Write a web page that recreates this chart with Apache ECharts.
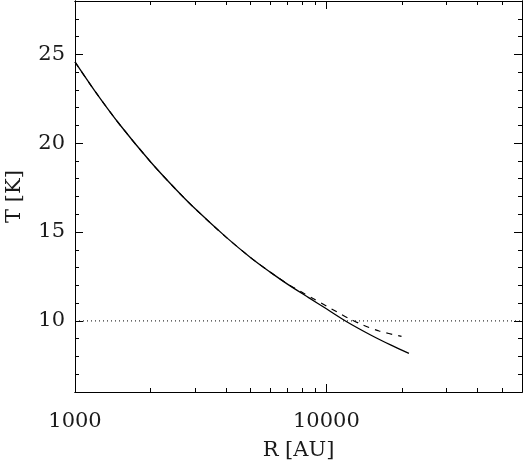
<!DOCTYPE html>
<html>
<head>
<meta charset="utf-8">
<script src="https://cdn.jsdelivr.net/npm/echarts@6/dist/echarts.min.js"></script>
<style>html,body{margin:0;padding:0;background:#fff}#c{width:525px;height:460px}</style>
</head>
<body>
<div id="c"></div>
<script>
// ---- data ----
const solidR = [1000, 1200, 1500, 2000, 2500, 3000, 4000, 5000, 6000, 7000, 8500, 10000, 12000, 15000, 18000, 21300];
const solidT = [24.57, 22.93, 21.08, 18.94, 17.45, 16.32, 14.70, 13.56, 12.73, 12.07, 11.31, 10.68, 9.97, 9.21, 8.65, 8.17];
const dashR = [1000, 1200, 1500, 2000, 2500, 3000, 4000, 5000, 6000, 7000, 8000, 9000, 10000, 11000, 12330, 13930, 16220, 19900];
const dashT = [24.57, 22.93, 21.08, 18.94, 17.45, 16.32, 14.70, 13.56, 12.73, 12.08, 11.61, 11.20, 10.84, 10.51, 10.13, 9.78, 9.43, 9.13];
const refR = [1000, 60000];
const refT = [10, 10];
const xMajor = [1000, 10000];
const xMinor = [2000, 3000, 4000, 5000, 6000, 7000, 8000, 9000, 20000, 30000, 40000, 50000];
const yMajor = [10, 15, 20, 25];
const yMinor = [7, 8, 9, 11, 12, 13, 14, 16, 17, 18, 19, 21, 22, 23, 24, 26, 27];
const xMin = 1000, xMax = 60000, yMin = 6, yMax = 28;

const FONT = 'DejaVu Serif';
const ink = '#000';
const txt = '#1a1a1a';
const zip = (a, b) => a.map((v, i) => [v, b[i]]);

function xAx(pos, ticks, len, labels, extra) {
  return Object.assign({
    type: 'log', logBase: 10, min: xMin, max: xMax, position: pos,
    axisLine: { show: true, onZero: false, lineStyle: { color: ink, width: 1 } },
    axisTick: { show: true, inside: true, length: len, customValues: ticks, lineStyle: { color: ink, width: 1 } },
    axisLabel: labels ? { show: true, customValues: ticks, margin: 19, fontFamily: FONT, fontSize: 21, color: txt, formatter: v => String(Math.round(v)) } : { show: false },
    splitLine: { show: false }, minorTick: { show: false }
  }, extra || {});
}
function yAx(pos, ticks, len, labels, extra) {
  return Object.assign({
    type: 'value', min: yMin, max: yMax, position: pos,
    axisLine: { show: true, onZero: false, lineStyle: { color: ink, width: 1 } },
    axisTick: { show: true, inside: true, length: len, customValues: ticks, lineStyle: { color: ink, width: 1 } },
    axisLabel: labels ? { show: true, customValues: ticks, margin: 10, fontFamily: FONT, fontSize: 21, color: txt } : { show: false },
    splitLine: { show: false }
  }, extra || {});
}

const chart = echarts.init(document.getElementById('c'), null, { renderer: 'canvas' });
chart.setOption({
  animation: false,
  backgroundColor: '#fff',
  grid: { left: 75, right: 3, top: 1, bottom: 68, containLabel: false, outerBoundsMode: 'none' },
  xAxis: [
    xAx('bottom', xMajor, 8, true, { name: 'R [AU]', nameLocation: 'middle', nameGap: 48, nameTextStyle: { fontFamily: FONT, fontSize: 21, color: txt } }),
    xAx('bottom', xMinor, 4, false),
    xAx('top', xMajor, 8, false),
    xAx('top', xMinor, 4, false)
  ],
  yAxis: [
    yAx('left', yMajor, 8, true, { name: 'T [K]', nameLocation: 'middle', nameGap: 50, nameRotate: 90, nameTextStyle: { fontFamily: FONT, fontSize: 21, color: txt } }),
    yAx('left', yMinor, 4, false),
    yAx('right', yMajor, 8, false),
    yAx('right', yMinor, 4, false)
  ],
  series: [
    { type: 'line', xAxisIndex: 0, yAxisIndex: 0, data: zip(refR, refT), symbol: 'none', lineStyle: { color: ink, width: 1, type: [1, 3] }, silent: true },
    { type: 'line', xAxisIndex: 0, yAxisIndex: 0, data: zip(dashR, dashT), symbol: 'none', smooth: 0.3, lineStyle: { color: ink, width: 1.2, type: [6, 6] } },
    { type: 'line', xAxisIndex: 0, yAxisIndex: 0, data: zip(solidR, solidT), symbol: 'none', smooth: 0.3, lineStyle: { color: ink, width: 1.3 } }
  ]
});
</script>
</body>
</html>
